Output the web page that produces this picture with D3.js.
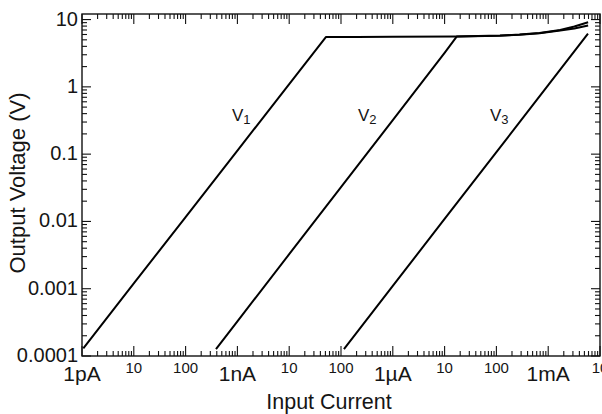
<!DOCTYPE html>
<html>
<head>
<meta charset="utf-8">
<script src="https://cdn.jsdelivr.net/npm/d3@7"></script>
<style>
  html, body { margin: 0; padding: 0; background: #fff; }
  svg { display: block; }
  text { font-family: "Liberation Sans", Arial, Helvetica, sans-serif; fill: #151515; }
</style>
</head>
<body>
<svg id="chart" width="602" height="414"></svg>
<script>
// Output voltage of three transimpedance ranges versus input current (A, V).
const seriesNames = ["V1", "V2", "V3"];
const currentV1 = [1.06e-12, 1e-11, 1e-10, 1e-9, 1e-8, 5.1e-8, 2e-7, 1e-6, 1.7e-5, 1.17e-4, 2.8e-4, 6.8e-4, 1.7e-3, 3.2e-3, 5.9e-3];
const voltageV1 = [1.3e-4, 1.2e-3, 0.0116, 0.113, 1.10, 5.5, 5.52, 5.55, 5.6, 5.78, 5.98, 6.3, 7.0, 7.87, 9.1];
const currentV2 = [3.86e-10, 1e-9, 1e-8, 1e-7, 1e-6, 1e-5, 1.71e-5, 1.17e-4, 2.8e-4, 6.8e-4, 1.7e-3, 3.2e-3, 5.9e-3];
const voltageV2 = [1.27e-4, 3.28e-4, 3.26e-3, 0.0324, 0.321, 3.19, 5.58, 5.76, 5.95, 6.25, 6.9, 7.35, 8.15];
const currentV3 = [1.14e-7, 1e-6, 1e-5, 1e-4, 1e-3, 5.86e-3];
const voltageV3 = [1.27e-4, 1.1e-3, 0.0109, 0.107, 1.06, 6.2];

// Axis tick labels, one per decade
const xTickLabels = ["1pA", "10", "100", "1nA", "10", "100", "1µA", "10", "100", "1mA", "10"];
const yTickLabels = ["0.0001", "0.001", "0.01", "0.1", "1", "10"];

const svg = d3.select("#chart");
const plotLeft = 82, plotRight = 600, plotTop = 14, plotBottom = 356;

const x = d3.scaleLog().domain([1e-12, 1e-2]).range([plotLeft, plotRight]);
const y = d3.scaleLog().domain([1e-4, 12.1]).range([plotBottom, plotTop]);

// Decade and minor tick positions
const xMajor = d3.range(-12, -1).map(e => Math.pow(10, e));
const yMajor = d3.range(-4, 2).map(e => Math.pow(10, e));
const minorOf = (majors, lo, hi) => {
  const out = [];
  majors.forEach(m => { for (let k = 2; k <= 9; k++) { const v = m * k; if (v > lo && v < hi) out.push(v); } });
  return out;
};
const xMinor = minorOf(xMajor, 1e-12, 1e-2);
const yMinor = minorOf(yMajor, 1e-4, 12.1);

const ticks = svg.append("g").attr("stroke", "#111").attr("stroke-width", 1.1);
const majLen = 10, minLen = 5;

// bottom and top ticks (pointing inward)
[[xMajor, majLen], [xMinor, minLen]].forEach(([vals, len]) => {
  ticks.selectAll(null).data(vals).join("line")
    .attr("x1", d => x(d)).attr("x2", d => x(d))
    .attr("y1", plotBottom).attr("y2", plotBottom - len);
  ticks.selectAll(null).data(vals).join("line")
    .attr("x1", d => x(d)).attr("x2", d => x(d))
    .attr("y1", plotTop).attr("y2", plotTop + len);
});
// left and right ticks
[[yMajor, majLen - 1], [yMinor, minLen]].forEach(([vals, len]) => {
  ticks.selectAll(null).data(vals).join("line")
    .attr("x1", plotLeft).attr("x2", plotLeft + len)
    .attr("y1", d => y(d)).attr("y2", d => y(d));
  ticks.selectAll(null).data(vals).join("line")
    .attr("x1", plotRight).attr("x2", plotRight - len)
    .attr("y1", d => y(d)).attr("y2", d => y(d));
});

// frame
svg.append("rect")
  .attr("x", plotLeft).attr("y", plotTop)
  .attr("width", plotRight - plotLeft).attr("height", plotBottom - plotTop)
  .attr("fill", "none").attr("stroke", "#111").attr("stroke-width", 1.4);

// x tick labels: unit labels large, intermediate decades small
svg.append("g").selectAll("text").data(xMajor).join("text")
  .attr("x", d => x(d))
  .attr("y", (d, i) => i % 3 === 0 ? 381 : 373)
  .attr("text-anchor", "middle")
  .attr("font-size", (d, i) => i % 3 === 0 ? 21 : 15)
  .text((d, i) => xTickLabels[i]);

// y tick labels
svg.append("g").selectAll("text").data(yMajor).join("text")
  .attr("x", plotLeft - 4)
  .attr("y", d => y(d))
  .attr("dy", "0.3em")
  .attr("text-anchor", "end")
  .attr("font-size", 20)
  .text((d, i) => yTickLabels[i]);

// axis titles
svg.append("text")
  .attr("x", (plotLeft + plotRight) / 2 - 12).attr("y", 409)
  .attr("text-anchor", "middle").attr("font-size", 21.5)
  .text("Input Current");
svg.append("text")
  .attr("transform", `translate(25, ${(plotTop + plotBottom) / 2 - 2}) rotate(-90)`)
  .attr("text-anchor", "middle").attr("font-size", 22)
  .text("Output Voltage (V)");

// curves
const line = d3.line().x(d => x(d[0])).y(d => y(d[1]));
const series = [
  d3.zip(currentV1, voltageV1),
  d3.zip(currentV2, voltageV2),
  d3.zip(currentV3, voltageV3)
];
svg.append("g").selectAll("path").data(series).join("path")
  .attr("d", line)
  .attr("fill", "none")
  .attr("stroke", "#000")
  .attr("stroke-width", 2)
  .attr("stroke-linejoin", "round");

// series labels
const labelPos = [[232, 121], [358, 121], [490, 121]];
const lbl = svg.append("g").selectAll("text").data(seriesNames).join("text")
  .attr("x", (d, i) => labelPos[i][0])
  .attr("y", (d, i) => labelPos[i][1])
  .attr("font-size", 17);
lbl.append("tspan").text(d => d[0]);
lbl.append("tspan").attr("font-size", 13).attr("dy", 3).text(d => d.slice(1));
</script>
</body>
</html>
